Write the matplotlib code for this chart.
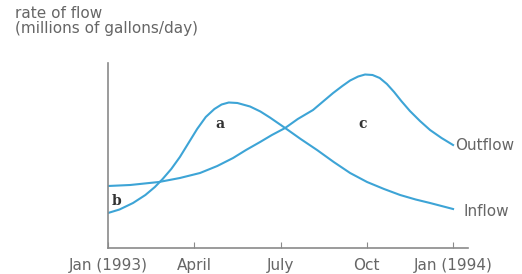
import numpy as np
import matplotlib.pyplot as plt

# months since Jan 1993 and rate of flow (arbitrary units)
inflow_month = [0.0, 0.4, 0.87, 1.3, 1.63, 1.9, 2.2, 2.5, 2.8, 3.1, 3.4, 3.7, 3.95, 4.2, 4.5, 4.94, 5.3, 5.63, 6.16, 6.7, 7.27, 7.85, 8.42, 9.01, 9.6, 10.16, 10.7, 11.2, 11.6, 12.0]
inflow_rate = [3.5, 3.85, 4.5, 5.3, 6.1, 6.9, 7.9, 9.1, 10.5, 11.9, 13.1, 13.9, 14.35, 14.55, 14.5, 14.15, 13.65, 13.05, 12.0, 10.9, 9.8, 8.6, 7.5, 6.6, 5.9, 5.3, 4.85, 4.5, 4.2, 3.9]

outflow_month = [0.0, 0.77, 1.77, 2.5, 3.2, 3.8, 4.35, 4.8, 5.29, 5.7, 6.16, 6.6, 7.13, 7.5, 7.83, 8.15, 8.42, 8.7, 8.94, 9.2, 9.45, 9.7, 9.95, 10.2, 10.5, 10.85, 11.2, 11.6, 12.0]
outflow_rate = [6.2, 6.3, 6.6, 7.0, 7.5, 8.2, 9.0, 9.8, 10.6, 11.3, 12.0, 12.9, 13.8, 14.7, 15.5, 16.2, 16.75, 17.15, 17.35, 17.3, 17.0, 16.4, 15.6, 14.7, 13.7, 12.7, 11.8, 11.0, 10.3]

tick_months = [0, 3, 6, 9, 12]
tick_labels = ["Jan (1993)", "April", "July", "Oct", "Jan (1994)"]

line_color = "#3da4d6"
text_color = "#666666"
axis_color = "#8a8a8a"

plt.rcParams["font.family"] = ["DejaVu Sans"]

fig = plt.figure(figsize=(5.22, 2.74), dpi=100)
ax = fig.add_axes([108 / 522, 26 / 274, 360 / 522, 185 / 274])

ax.plot(inflow_month, inflow_rate, color=line_color, lw=1.5)
ax.plot(outflow_month, outflow_rate, color=line_color, lw=1.5)

ax.set_xlim(0, 12.52)
ax.set_ylim(0, 18.5)

for s in ["top", "right"]:
    ax.spines[s].set_visible(False)
for s in ["left", "bottom"]:
    ax.spines[s].set_color(axis_color)
    ax.spines[s].set_linewidth(1.2)

ax.set_xticks(tick_months)
ax.set_xticklabels(tick_labels)
ax.tick_params(axis="x", direction="in", length=4, color=axis_color, labelsize=11,
               labelcolor=text_color, pad=7)
ax.set_yticks([])

# region letters
ax.text(3.9, 12.4, "a", family="DejaVu Serif", weight="bold", fontsize=10,
        ha="center", va="center", color="#333333")
ax.text(8.87, 12.4, "c", family="DejaVu Serif", weight="bold", fontsize=10,
        ha="center", va="center", color="#333333")
ax.text(0.31, 4.7, "b", family="DejaVu Serif", weight="bold", fontsize=10,
        ha="center", va="center", color="#333333")

# series labels
ax.text(12.07, 10.2, "Outflow", fontsize=11, color=text_color, ha="left", va="center", clip_on=False)
ax.text(12.35, 3.6, "Inflow", fontsize=11, color=text_color, ha="left", va="center", clip_on=False)

fig.text(15 / 522, 1 - 13 / 274, "rate of flow", fontsize=11, color=text_color, ha="left", va="center")
fig.text(15 / 522, 1 - 29 / 274, "(millions of gallons/day)", fontsize=11, color=text_color,
         ha="left", va="center")

fig.savefig("out.png", dpi=100)
